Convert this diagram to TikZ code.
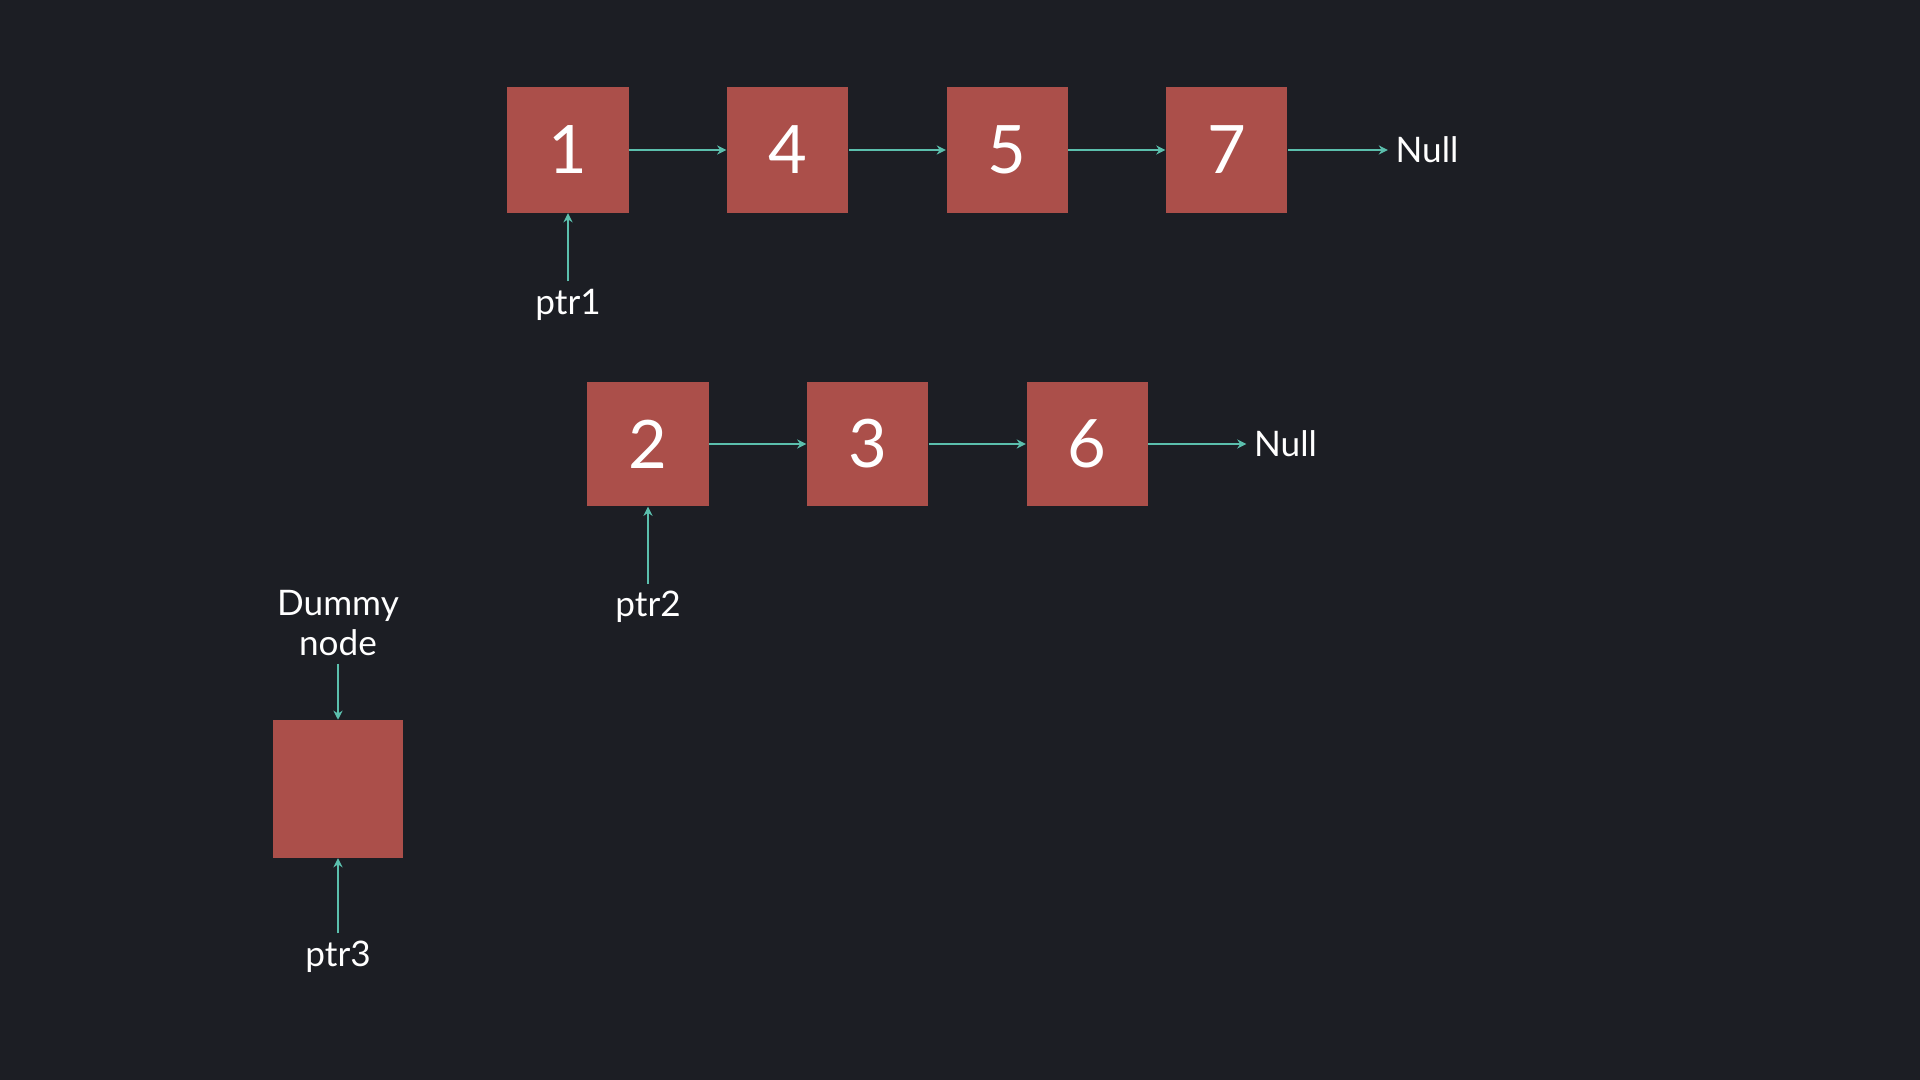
\documentclass[tikz,border=0pt]{standalone}
\usepackage{fontspec}
\setmainfont{Lato}
\usetikzlibrary{arrows.meta,positioning}
\definecolor{bgdark}{HTML}{1C1E24}
\definecolor{boxred}{HTML}{AB4F4A}
\definecolor{linkteal}{HTML}{5BBFAD}

\begin{document}
\begin{tikzpicture}[x=0.01cm, y=-0.01cm, node distance=0.97cm,
    box/.style={fill=boxred, minimum width=1.21cm, minimum height=1.25cm, inner sep=0pt,
      text=white, font=\fontsize{19}{19}\selectfont},
    lbl/.style={text=white, font=\fontsize{10}{11.5}\selectfont, inner sep=2pt, align=center},
    link/.style={draw=linkteal, line width=0.6pt, -{Stealth[length=2.6pt,width=2.6pt]}}]
  \fill[bgdark] (0,0) rectangle (1920,1080);
  \useasboundingbox (0,0) rectangle (1920,1080);
  % first list
  \node[box] (n1) at (568,150) {1};
  \node[box, right=of n1] (n4) {4};
  \node[box, right=of n4] (n5) {5};
  \node[box, right=of n5] (n7) {7};
  \node[lbl, right=1.0cm of n7] (null1) {Null};
  \node[lbl, below=0.68cm of n1] (ptr1) {ptr1};
  \draw[link] (n1) -- (n4);
  \draw[link] (n4) -- (n5);
  \draw[link] (n5) -- (n7);
  \draw[link] (n7) -- (null1);
  \draw[link] (ptr1) -- (n1);
  % second list
  \node[box, minimum height=1.24cm] (n2) at (648,444) {2};
  \node[box, minimum height=1.24cm, right=of n2] (n3) {3};
  \node[box, minimum height=1.24cm, right=of n3] (n6) {6};
  \node[lbl, right=0.98cm of n6] (null2) {Null};
  \node[lbl, below=0.77cm of n2] (ptr2) {ptr2};
  \draw[link] (n2) -- (n3);
  \draw[link] (n3) -- (n6);
  \draw[link] (n6) -- (null2);
  \draw[link] (ptr2) -- (n2);
  % dummy node
  \node[box, minimum width=1.29cm, minimum height=1.37cm] (dummy) at (338,789) {};
  \node[lbl, above=0.56cm of dummy] (dlbl) {Dummy\\node};
  \node[lbl, below=0.75cm of dummy] (ptr3) {ptr3};
  \draw[link] (dlbl) -- (dummy);
  \draw[link] (ptr3) -- (dummy);
\end{tikzpicture}
\end{document}
